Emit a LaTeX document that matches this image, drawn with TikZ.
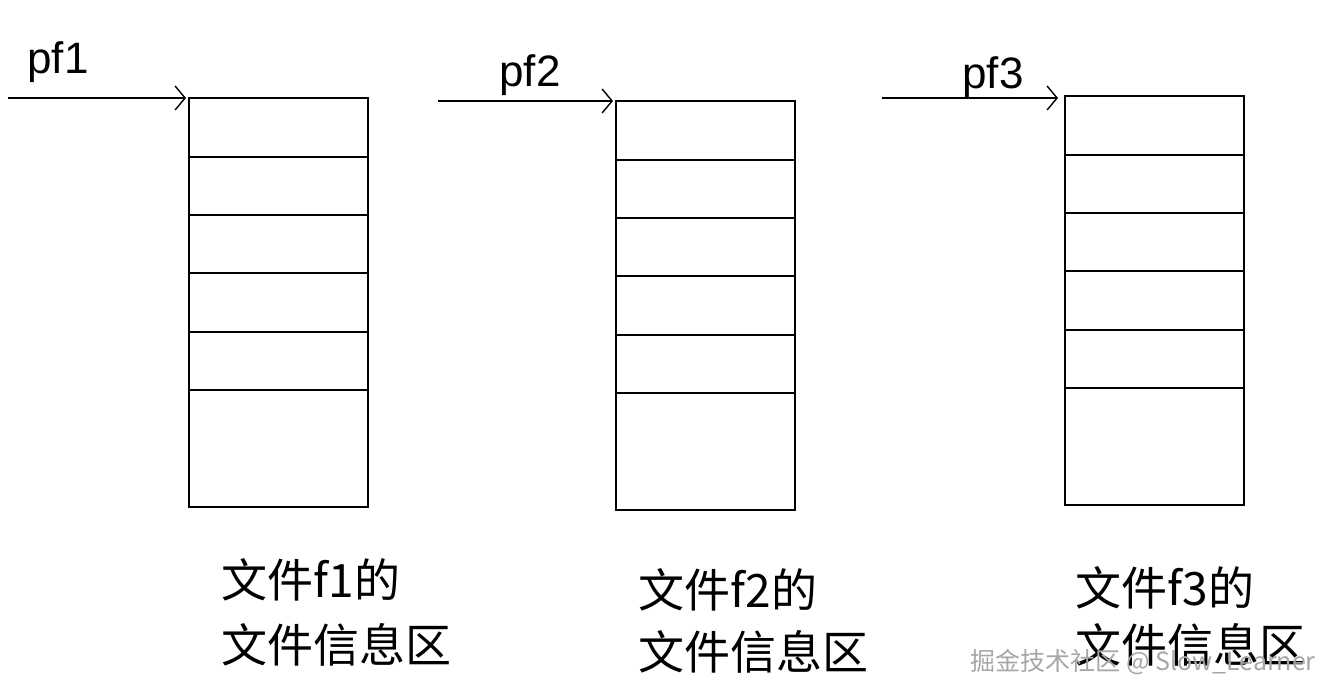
\documentclass[tikz,border=0pt]{standalone}
\usepackage{fontspec}
\setmainfont{Liberation Sans}
\newfontfamily\cjk{Noto Sans CJK SC}
\usetikzlibrary{arrows.meta}
\begin{document}
\begin{tikzpicture}[x=1pt,y=-1pt,line width=1.6pt,
  ptr/.style={-{Straight Barb[length=10pt,width=24pt,line width=1.4pt]}},
  lab/.style={font=\fontsize{44}{48}\selectfont,inner sep=0pt},
  captext/.style={font=\cjk\fontsize{46}{50}\selectfont,inner sep=0pt,anchor=west},
  wm/.style={font=\cjk\fontsize{25}{28}\selectfont,text=gray!70,inner sep=0pt}]
\useasboundingbox (0,0) rectangle (1338,698);
\foreach \n/\x/\y in {1/189/98,2/616/101,3/1065/96}{
  \draw (\x,\y) rectangle ++(179,409);
  \foreach \d in {59,117,175,234,292}{\draw (\x,\y+\d) -- ++(179,0);}
}
\coordinate (t1) at (186,98);
\coordinate (t2) at (613,101);
\coordinate (t3) at (1058,98);
\coordinate (s1) at (8,98);
\coordinate (s2) at (438,101);
\coordinate (s3) at (882,98);
\draw[ptr] (s1) -- (t1);
\draw[ptr] (s2) -- (t2);
\draw[ptr] (s3) -- (t3);
\node[lab] (p1) at (58,62) {pf1};
\node[lab] (p2) at (530,75) {pf2};
\node[lab] (p3) at (993,77) {pf3};
\node[captext] (c1a) at (221,580) {文件f1的};
\node[captext] (c1b) at (221,645) {文件信息区};
\node[captext] (c2a) at (638,590) {文件f2的};
\node[captext] (c2b) at (638,652) {文件信息区};
\node[captext] (c3a) at (1075,588) {文件f3的};
\node[captext] (c3b) at (1075,645) {文件信息区};
\node[wm] (w) at (1143,662) {掘金技术社区 @ Slow\_Learner};
\end{tikzpicture}
\end{document}
